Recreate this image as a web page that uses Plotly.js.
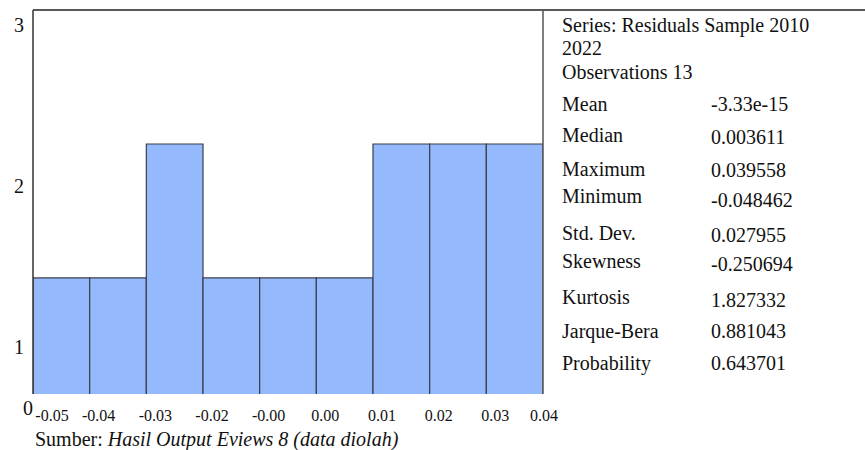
<!DOCTYPE html>
<html>
<head>
<meta charset="utf-8">
<script src="https://cdn.plot.ly/plotly-3.0.1.min.js"></script>
<style>
  html, body { margin: 0; padding: 0; background: #ffffff; }
  #chart { width: 865px; height: 450px; }
</style>
</head>
<body>
<div id="chart"></div>
<script>
// ---- data ----
const binStart = [-0.05, -0.04, -0.03, -0.02, -0.01, 0.00, 0.01, 0.02, 0.03];
const binWidth = 0.01;
const counts = [1, 1, 2, 1, 1, 1, 2, 2, 2];

const xTickVals = [-0.05, -0.04, -0.03, -0.02, -0.01, 0.00, 0.01, 0.02, 0.03, 0.04];
const xTickText = ['-0.05', '-0.04', '-0.03', '-0.02', '-0.00', '0.00', '0.01', '0.02', '0.03', '0.04'];

const yTickVals = [1, 2, 3];
const yTickText = ['1', '2', '3'];

const seriesHeader = ['Series: Residuals Sample 2010', '2022', 'Observations 13'];
const statLabels = ['Mean', 'Median', 'Maximum', 'Minimum', 'Std. Dev.', 'Skewness', 'Kurtosis', 'Jarque-Bera', 'Probability'];
const statValues = ['-3.33e-15', '0.003611', '0.039558', '-0.048462', '0.027955', '-0.250694', '1.827332', '0.881043', '0.643701'];

const caption = 'Sumber: <i>Hasil Output Eviews 8 (data diolah)</i>';

// ---- layout helpers (pixel positions in the 865x450 picture) ----
const W = 865, H = 450;
const M = { l: 33, r: 322, t: 10, b: 56 };
const plotW = W - M.l - M.r;   // 510
const plotH = H - M.t - M.b;   // 384
const px2x = px => (px - M.l) / plotW;
const py2y = py => (H - M.b - py) / plotH;

const headerRowY = [25, 48, 72];
const labelRowY = [104, 135, 169, 196, 233, 261, 297, 331, 363];
const valueRowY = [104, 137, 170, 200, 235, 264, 300, 331, 363];
const labelX = 560, valueX = 709;

const serif = 'Liberation Serif, Times New Roman, serif';
const textFont = { family: serif, size: 20, color: '#111111' };
const tickFont = { family: serif, size: 16, color: '#111111' };

// first x tick label is drawn by an overlaid axis (it sits further right);
// the last one is padded so it sits a little further left
const NB = '\u00a0';
const mainTickVals = xTickVals.slice(1);
const mainTickText = xTickText.slice(1).map((t, i, a) => (i === a.length - 1 ? t + NB.repeat(4) : t));

const annotations = [];
seriesHeader.forEach((t, i) => annotations.push({
  xref: 'paper', yref: 'paper', x: px2x(labelX), y: py2y(headerRowY[i]),
  xanchor: 'left', yanchor: 'middle', text: t, showarrow: false, font: textFont
}));
statLabels.forEach((t, i) => annotations.push({
  xref: 'paper', yref: 'paper', x: px2x(labelX), y: py2y(labelRowY[i]),
  xanchor: 'left', yanchor: 'middle', text: t, showarrow: false, font: textFont
}));
statValues.forEach((t, i) => annotations.push({
  xref: 'paper', yref: 'paper', x: px2x(valueX), y: py2y(valueRowY[i]),
  xanchor: 'left', yanchor: 'middle', text: t, showarrow: false, font: textFont
}));
// stray "0" label of the y axis
annotations.push({
  xref: 'paper', yref: 'paper', x: px2x(28), y: py2y(408),
  xanchor: 'center', yanchor: 'middle', text: '0', showarrow: false,
  borderpad: 0, font: textFont
});
// caption
annotations.push({
  xref: 'paper', yref: 'paper', x: px2x(33), y: py2y(439),
  xanchor: 'left', yanchor: 'middle', text: caption, showarrow: false, font: textFont
});

const shapes = [
  // top border across the whole width
  { type: 'line', xref: 'paper', yref: 'paper', x0: 0, x1: px2x(W), y0: 1, y1: 1, line: { color: '#222222', width: 1.5 } },
  // left border of plot
  { type: 'line', xref: 'paper', yref: 'paper', x0: 0, x1: 0, y0: 0, y1: 1, line: { color: '#333333', width: 1.5 } },
  // left border of statistics panel
  { type: 'line', xref: 'paper', yref: 'paper', x0: 1, x1: 1, y0: 0, y1: 1, line: { color: '#555555', width: 1.5 } }
];

const traces = [
  {
    type: 'bar',
    x: binStart.map(s => s + binWidth / 2),
    y: counts,
    width: binStart.map(() => binWidth),
    marker: { color: '#94b9fd', line: { color: '#3a3f4a', width: 1.2 } },
    hoverinfo: 'skip',
    showlegend: false
  },
  { type: 'scatter', mode: 'markers', x: [], y: [], yaxis: 'y2', hoverinfo: 'skip', showlegend: false },
  { type: 'scatter', mode: 'markers', x: [], y: [], xaxis: 'x2', hoverinfo: 'skip', showlegend: false }
];

const axisBase = { ticks: '', showgrid: false, zeroline: false, showline: false, fixedrange: true };

const layout = {
  width: W, height: H,
  margin: M,
  paper_bgcolor: '#ffffff',
  plot_bgcolor: '#ffffff',
  bargap: 0,
  showlegend: false,
  xaxis: Object.assign({}, axisBase, {
    range: [-0.05, 0.04],
    tickmode: 'array', tickvals: mainTickVals, ticktext: mainTickText,
    tickfont: tickFont, ticklabelshift: 9, ticklabelstandoff: 10
  }),
  xaxis2: Object.assign({}, axisBase, {
    overlaying: 'x', anchor: 'y', side: 'bottom',
    range: [-0.05, 0.04],
    tickmode: 'array', tickvals: [xTickVals[0]], ticktext: [xTickText[0]],
    tickfont: tickFont, ticklabelshift: 19, ticklabelstandoff: 10
  }),
  yaxis: Object.assign({}, axisBase, {
    range: [0.134, 3.0], showticklabels: false
  }),
  yaxis2: Object.assign({}, axisBase, {
    overlaying: 'y', side: 'left',
    range: [0.708, 3.093],
    tickmode: 'array', tickvals: yTickVals, ticktext: yTickText,
    tickfont: textFont, ticklabelstandoff: 8
  }),
  annotations: annotations,
  shapes: shapes
};

Plotly.newPlot('chart', traces, layout, { displayModeBar: false, staticPlot: true });
</script>
</body>
</html>
